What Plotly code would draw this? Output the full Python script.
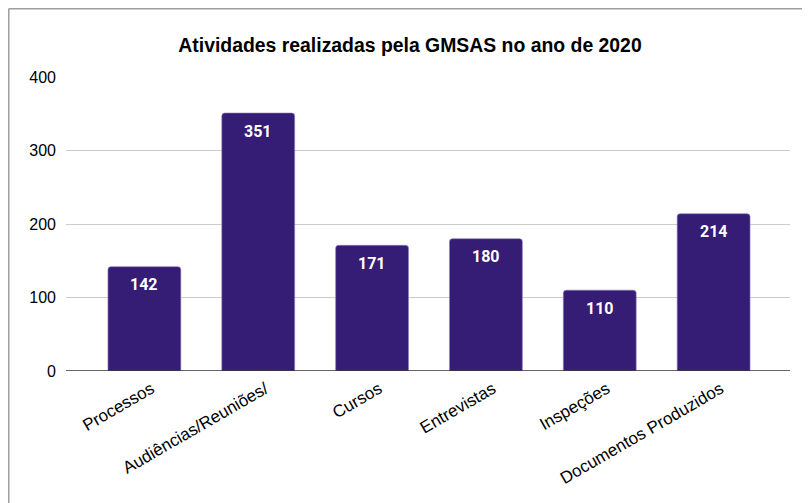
import plotly.graph_objects as go

categorias = ["Processos", "Audiências/Reuniões/", "Cursos", "Entrevistas", "Inspeções", "Documentos Produzidos"]
valores = [142, 351, 171, 180, 110, 214]
y_ticks = [0, 100, 200, 300, 400]

# the page body has an 8px margin, so the figure is sized to fit inside the window
W, H = 802, 495
ml, mr, mt, mb = 58, 20, 69, 132
pw, ph = W - ml - mr, H - mt - mb
slot = 114  # px per category

fig = go.Figure(go.Bar(
    x=list(range(len(categorias))),
    y=valores,
    width=0.64,
    marker=dict(color="#351c75", line=dict(color="#8e7cc3", width=0.6), cornerradius=3),
    hoverinfo="x+y",
))

# value labels inside the top of each bar
for i, v in enumerate(valores):
    fig.add_annotation(x=i, y=v, text=f"<b>{v}</b>", showarrow=False,
                       yanchor="middle", yshift=-18,
                       font=dict(family="Roboto", size=16, color="white"))

fig.update_layout(
    width=W, height=H,
    margin=dict(l=ml, r=mr, t=mt, b=mb),
    paper_bgcolor="white", plot_bgcolor="white",
    showlegend=False,
    title=dict(text="<b>Atividades realizadas pela GMSAS no ano de 2020</b>",
               x=402 / W, xanchor="center", xref="container",
               y=1 - 37 / H, yanchor="middle", yref="container",
               font=dict(family="Liberation Sans, Arial", size=19.4, color="#000")),
    xaxis=dict(
        range=[-(136.5 - ml) / slot, 5 + (782 - 705.5) / slot],
        tickmode="array", tickvals=list(range(len(categorias))), ticktext=categorias,
        tickangle=-30, showgrid=False, zeroline=False, showline=False, ticks="",
        ticklabelshift=7, ticklabelstandoff=4,
        tickfont=dict(family="Liberation Sans, Arial", size=17, color="#000"),
    ),
    yaxis=dict(
        range=[0, 400], tickvals=y_ticks, showgrid=True, gridcolor="#cccccc", gridwidth=1,
        zeroline=False, showline=False, ticks="", ticklabelstandoff=9,
        tickfont=dict(family="Liberation Sans, Arial", size=16, color="#000"),
    ),
    shapes=[
        # zero baseline
        dict(type="line", xref="paper", yref="y", x0=0, x1=1, y0=0, y1=0,
             line=dict(color="#333333", width=1.5), layer="above"),
        # outer frame (top and left)
        dict(type="line", xref="paper", yref="paper",
             x0=(0.75 - ml) / pw, x1=(W + 10 - ml) / pw,
             y0=(H - mb - 0.75) / ph, y1=(H - mb - 0.75) / ph,
             line=dict(color="#9e9e9e", width=1.5)),
        dict(type="line", xref="paper", yref="paper",
             x0=(0.75 - ml) / pw, x1=(0.75 - ml) / pw,
             y0=(H - mb - 0.75) / ph, y1=(H - mb - H - 10) / ph,
             line=dict(color="#9e9e9e", width=1.5)),
    ],
)

fig.write_html("out.html")
